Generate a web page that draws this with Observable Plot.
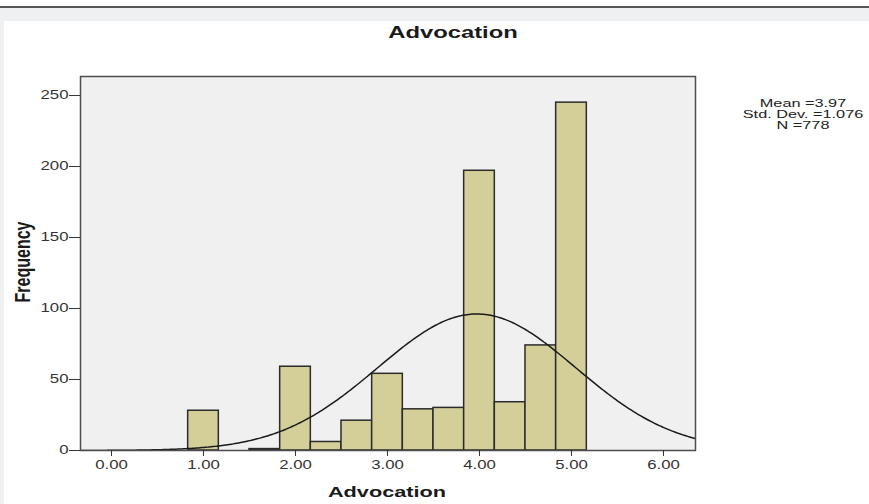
<!DOCTYPE html>
<html><head><meta charset="utf-8">
<script src="https://cdn.jsdelivr.net/npm/d3@7"></script>
<script src="https://cdn.jsdelivr.net/npm/@observablehq/plot@0.6"></script>
<style>
html,body{margin:0;padding:0;background:#fff;}
#wrap{position:relative;width:869px;height:504px;overflow:hidden;font-family:"Liberation Sans",Arial,sans-serif;background:#eef0f2;}
#topwhite{position:absolute;left:0;top:0;width:869px;height:6px;background:#fff;}
#topline{position:absolute;left:0;top:6px;width:869px;height:2px;background:#555;}
#panel{position:absolute;left:4px;top:21px;right:0;bottom:0;background:#fff;}
#chart{position:absolute;left:0;top:0;}
.t{position:absolute;white-space:nowrap;color:#1a1a1a;line-height:1;}
#title{left:453px;top:32px;font-size:17px;font-weight:bold;transform:translate(-50%,-50%) scaleX(1.4);}
#xlab{left:387px;top:492px;font-size:15.5px;font-weight:bold;transform:translate(-50%,-50%) scaleX(1.4);}
#ylab{left:23px;top:262px;font-size:16px;font-weight:bold;transform:translate(-50%,-50%) scaleX(1.4) rotate(-90deg);}
#stats{left:803px;top:114px;font-size:10.5px;line-height:11px;text-align:center;color:#222;transform:translate(-50%,-50%) scaleX(1.55);}
</style></head><body>
<div id="wrap">
 <div id="topwhite"></div><div id="topline"></div><div id="panel"></div>
 <div id="chart"></div>
 <div class="t" id="title">Advocation</div>
 <div class="t" id="xlab">Advocation</div>
 <div class="t" id="ylab">Frequency</div>
 <div class="t" id="stats"></div>
</div>
<script>
// Data
const binMid = [1, 5/3, 2, 7/3, 8/3, 3, 10/3, 11/3, 4, 13/3, 14/3, 5];
const freq   = [28, 1, 59, 6, 21, 54, 29, 30, 197, 34, 74, 245];
const binWidth = 1/3;
const xTicks = [0, 1, 2, 3, 4, 5, 6];
const yTicks = [0, 50, 100, 150, 200, 250];
const statLabels = ["Mean =3.97", "Std. Dev. =1.076", "N =778"];
const meanVal = 3.97, sdVal = 1.076, nVal = 778;

const xDomain = [-0.337, 6.348];
const yDomain = [0, 263.4];

const bars = binMid.map((m, i) => ({x1: m - binWidth / 2, x2: m + binWidth / 2, y: freq[i]}));
const curve = d3.range(xDomain[0], xDomain[1] + 0.01, 0.02).map(x => ({
  x,
  y: nVal * binWidth * Math.exp(-0.5 * ((x - meanVal) / sdVal) ** 2) / (sdVal * Math.sqrt(2 * Math.PI))
}));

const svg = Plot.plot({
  width: 869, height: 504,
  marginLeft: 80, marginRight: 174, marginTop: 76, marginBottom: 54,
  x: {domain: xDomain},
  y: {domain: yDomain},
  style: {background: "transparent", color: "#333", fontFamily: "'Liberation Sans', Arial, sans-serif", fontSize: "12px"},
  marks: [
    Plot.frame({fill: "#f0f0f0", stroke: "none"}),
    Plot.rectY(bars, {x1: "x1", x2: "x2", y: "y", fill: "#d4cf98", stroke: "#2b2b2b", strokeWidth: 1.5}),
    Plot.line(curve, {x: "x", y: "y", stroke: "#1a1a1a", strokeWidth: 1.5, clip: true}),
    Plot.frame({stroke: "#4d4d4d", strokeWidth: 1.5}),
    Plot.axisX({ticks: xTicks, tickFormat: d => d.toFixed(2), tickSize: 6, tickPadding: 4, label: null, fontSize: 12}),
    Plot.axisY({ticks: yTicks, tickFormat: d => String(d), tickSize: 11, tickPadding: 1, label: null, fontSize: 12})
  ]
});
document.getElementById("chart").appendChild(svg);
d3.select(svg).selectAll('g[aria-label="x-axis tick label"] text, g[aria-label="y-axis tick label"] text')
  .attr("transform", function() { return (this.getAttribute("transform") || "") + " scale(1.4,1)"; });

document.getElementById("stats").innerHTML = statLabels.join("<br>");
</script>
</body></html>
